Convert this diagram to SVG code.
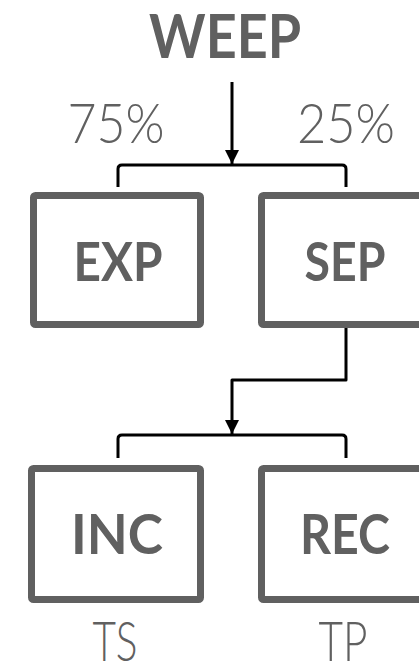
<svg xmlns="http://www.w3.org/2000/svg" width="419" height="664" viewBox="0 0 419 664">
  <defs>
    <marker id="arrow" viewBox="0 0 14 14" refX="14" refY="7" markerWidth="14" markerHeight="14" markerUnits="userSpaceOnUse" orient="auto">
      <path d="M0,0 L14,7 L0,14 Z" fill="#000"/>
    </marker>
    <style>
      .box { fill: #fff; stroke: #606060; stroke-width: 7; }
      .lbl { font-family: Lato, "Liberation Sans", sans-serif; font-weight: bold; fill: #606060; text-anchor: middle; }
      .thin { font-family: Lato, "Open Sans", "Liberation Sans", sans-serif; font-weight: 300; fill: #606060; text-anchor: middle; }
      .conn { fill: none; stroke: #000; stroke-width: 3; stroke-linejoin: round; }
    </style>
  </defs>
  <rect width="419" height="664" fill="#fff"/>

  <!-- title and split ratios -->
  <text class="lbl" x="225" y="58" font-size="61" textLength="152" lengthAdjust="spacingAndGlyphs">WEEP</text>
  <text class="thin" x="116" y="143" font-size="55" textLength="97" lengthAdjust="spacingAndGlyphs">75%</text>
  <text class="thin" x="346" y="143" font-size="55" textLength="98" lengthAdjust="spacingAndGlyphs">25%</text>

  <g id="connectors">
    <line class="conn" x1="232" y1="82" x2="232" y2="164" marker-end="url(#arrow)"/>
    <path class="conn" d="M118,187 V169 Q118,165 122,165 H342 Q346,165 346,169 V187"/>
    <path class="conn" d="M346,328 V380 H232 V434" marker-end="url(#arrow)"/>
    <path class="conn" d="M118,458 V439 Q118,435 122,435 H342 Q346,435 346,439 V458"/>
  </g>

  <g id="exp">
    <rect class="box" x="33.5" y="195.5" width="167" height="129" rx="2"/>
    <text class="lbl" x="118" y="281" font-size="54" textLength="89" lengthAdjust="spacingAndGlyphs">EXP</text>
  </g>
  <g id="sep">
    <rect class="box" x="261.5" y="195.5" width="167" height="129" rx="2"/>
    <text class="lbl" x="345" y="281" font-size="54" textLength="81" lengthAdjust="spacingAndGlyphs">SEP</text>
  </g>
  <g id="inc">
    <rect class="box" x="31.5" y="468.5" width="169" height="131" rx="2"/>
    <text class="lbl" x="117" y="554" font-size="56" textLength="92" lengthAdjust="spacingAndGlyphs">INC</text>
    <text class="thin" x="115" y="661" font-size="55" textLength="45" lengthAdjust="spacingAndGlyphs">TS</text>
  </g>
  <g id="rec">
    <rect class="box" x="261.5" y="468.5" width="169" height="131" rx="2"/>
    <text class="lbl" x="345" y="554" font-size="56" textLength="90" lengthAdjust="spacingAndGlyphs">REC</text>
    <text class="thin" x="343" y="661" font-size="55" textLength="49" lengthAdjust="spacingAndGlyphs">TP</text>
  </g>
</svg>
